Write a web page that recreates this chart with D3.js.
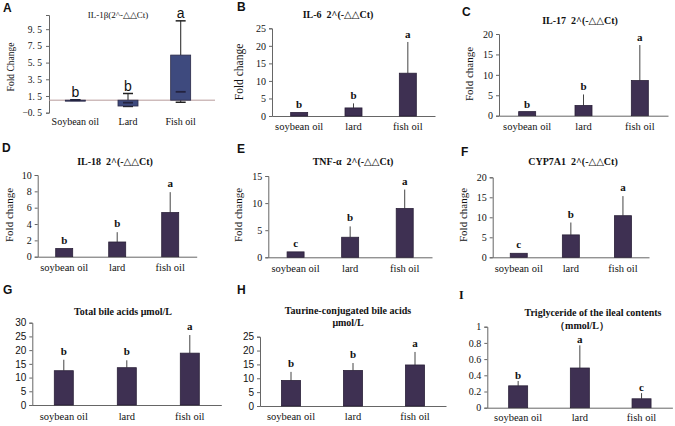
<!DOCTYPE html>
<html>
<head>
<meta charset="utf-8">
<script src="https://cdn.jsdelivr.net/npm/d3@7"></script>
<style>
  body { margin: 0; background: #fff; }
  svg { display: block; }
  text { fill: #111; white-space: pre; }
</style>
</head>
<body>
<svg width="675" height="426"></svg>
<script>
const svg = d3.select("svg");

// ---- data ----
const groupsA = ["Soybean oil", "Lard", "Fish oil"];
const groups = ["soybean oil", "lard", "fish oil"];

// panel A : box summary (min, q1, median, q3, max)
const il1bMin = [1.0, 0.25, 0.75];
const il1bQ1 = [1.0, 0.3, 1.0];
const il1bMed = [1.0, 0.7, 2.0];
const il1bQ3 = [1.0, 1.0, 6.4];
const il1bMax = [1.05, 1.8, 10.5];
const il1bLetters = ["b", "b", "a"];
const il1bTicks = [-0.5, 1.5, 3.5, 5.5, 7.5, 9.5];

const il6Mean = [1, 2.3, 12.2];
const il6Sd = [0, 1.3, 8.9];
const il6Letters = ["b", "b", "a"];

const il17Mean = [1, 2.5, 8.6];
const il17Sd = [0, 2.7, 8.7];
const il17Letters = ["b", "b", "a"];

const il18Mean = [1, 1.8, 5.4];
const il18Sd = [0, 1.2, 2.5];
const il18Letters = ["b", "b", "a"];

const tnfMean = [1, 3.7, 9.0];
const tnfSd = [0, 2.0, 3.5];
const tnfLetters = ["c", "b", "a"];

const cypMean = [1, 5.6, 10.4];
const cypSd = [0, 3.1, 4.9];
const cypLetters = ["c", "b", "a"];

const tbaMean = [12.5, 13.6, 18.9];
const tbaSd = [4.0, 2.7, 6.6];
const tbaLetters = ["b", "b", "a"];

const tcbaMean = [9.2, 12.8, 14.8];
const tcbaSd = [3.1, 2.7, 4.7];
const tcbaLetters = ["b", "b", "a"];

const tgMean = [0.27, 0.49, 0.11];
const tgSd = [0.06, 0.28, 0.07];
const tgLetters = ["b", "a", "c"];

const SERIF = "'Liberation Serif', 'Times New Roman', 'DejaVu Serif', serif";
const SANS = "'Liberation Sans', Arial, sans-serif";
const barFill = "#3e3052";
const barStroke = "#2a2038";
const axisColor = "#666";

function panelLabel(t, x, y, font) {
  svg.append("text").attr("x", x).attr("y", y)
    .style("font-family", font || SANS).attr("font-weight", "bold")
    .attr("font-size", 12).text(t);
}

function barPanel(p) {
  const g = svg.append("g");
  const y = d3.scaleLinear().domain([0, p.max]).range([p.y0, p.yTop]);
  const x = d3.scaleBand().domain(groups).range([p.x0, p.x1]);

  const yAxis = d3.axisLeft(y).tickValues(p.ticks).tickSize(3).tickPadding(3)
    .tickFormat(p.fmt || d3.format("d"));
  const ya = g.append("g").attr("transform", `translate(${p.x0},0)`).call(yAxis);
  ya.select(".domain").attr("stroke", axisColor);
  ya.selectAll(".tick line").attr("stroke", axisColor);
  ya.selectAll(".tick text").style("font-family", p.tickFont || SERIF)
    .style("font-size", "10px").attr("fill", "#111");

  const xAxis = d3.axisBottom(x).tickSize(0).tickPadding(p.catPad || 7);
  const xa = g.append("g").attr("transform", `translate(0,${p.y0})`).call(xAxis);
  xa.select(".domain").attr("stroke", axisColor);
  xa.selectAll(".tick text").style("font-family", SERIF).style("font-size", "10.5px")
    .attr("fill", "#111");

  const bw = p.bw;
  const rows = groups.map((k, i) => ({ k, m: p.mean[i], s: p.sd[i], l: p.letters[i] }));

  g.selectAll("line.err").data(rows.filter(d => d.s > 0)).join("line")
    .attr("class", "err")
    .attr("x1", d => x(d.k) + x.bandwidth() / 2).attr("x2", d => x(d.k) + x.bandwidth() / 2)
    .attr("y1", d => y(d.m)).attr("y2", d => y(d.m + d.s))
    .attr("stroke", "#444").attr("stroke-width", 1);

  g.selectAll("rect.bar").data(rows).join("rect")
    .attr("class", "bar")
    .attr("x", d => x(d.k) + x.bandwidth() / 2 - bw / 2)
    .attr("width", bw)
    .attr("y", d => y(d.m))
    .attr("height", d => y(0) - y(d.m))
    .attr("fill", barFill).attr("stroke", barStroke).attr("stroke-width", 0.8);

  g.selectAll("text.sig").data(rows).join("text")
    .attr("class", "sig")
    .attr("x", d => x(d.k) + x.bandwidth() / 2)
    .attr("y", d => y(d.m + d.s) - p.letterOff)
    .attr("text-anchor", "middle")
    .style("font-family", SERIF).attr("font-weight", "bold").attr("font-size", 11)
    .text(d => d.l);

  p.title.forEach(t => {
    g.append("text").attr("x", t[1]).attr("y", t[2])
      .attr("text-anchor", "middle").style("font-family", SERIF)
      .attr("font-weight", "bold").attr("font-size", 10).text(t[0]);
  });

  if (p.ylabel) {
    g.append("text")
      .attr("transform", `translate(${p.ylabel[1]},${p.ylabel[2]}) rotate(-90)`)
      .attr("text-anchor", "middle").style("font-family", SERIF)
      .attr("font-size", p.ylabel[3]).text(p.ylabel[0]);
  }
}

// ---- panel A : box plot ----
(function () {
  const g = svg.append("g");
  const x0 = 49, x1 = 215;
  const y = d3.scaleLinear().domain([-0.5, 11.2]).range([112.7, 15]);
  const x = d3.scaleBand().domain(groupsA).range([x0, 207]);

  const yAxis = d3.axisLeft(y).tickValues(il1bTicks).tickSize(3).tickPadding(4)
    .tickFormat(d => (d < 0 ? "\u2212" : "") + Math.abs(d).toFixed(1).replace(".", ". "));
  const ya = g.append("g").attr("transform", `translate(${x0},0)`).call(yAxis);
  ya.select(".domain").attr("stroke", axisColor);
  ya.selectAll(".tick line").attr("stroke", axisColor);
  ya.selectAll(".tick text").style("font-family", SERIF).style("font-size", "9.5px").attr("fill", "#111");

  // reference line at fold change 1
  g.append("line").attr("x1", x0).attr("x2", x1).attr("y1", y(1)).attr("y2", y(1))
    .attr("stroke", "#b79a9a").attr("stroke-width", 1);

  groupsA.forEach(k => {
    g.append("text").attr("x", x(k) + x.bandwidth() / 2).attr("y", 125)
      .attr("text-anchor", "middle").style("font-family", SERIF).attr("font-size", 10)
      .text(k);
  });

  const rows = groupsA.map((k, i) => ({
    k, lo: il1bMin[i], q1: il1bQ1[i], md: il1bMed[i], q3: il1bQ3[i], hi: il1bMax[i], l: il1bLetters[i]
  }));
  const cx = d => x(d.k) + x.bandwidth() / 2;
  const bw = 20, cap = 10;

  g.selectAll("line.whi").data(rows).join("line").attr("class", "whi")
    .attr("x1", cx).attr("x2", cx).attr("y1", d => y(d.q3)).attr("y2", d => y(d.hi))
    .attr("stroke", "#444").attr("stroke-width", 1.2);
  g.selectAll("line.wlo").data(rows).join("line").attr("class", "wlo")
    .attr("x1", cx).attr("x2", cx).attr("y1", d => y(d.q1)).attr("y2", d => y(d.lo))
    .attr("stroke", "#444").attr("stroke-width", 1.2);
  g.selectAll("line.chi").data(rows).join("line").attr("class", "chi")
    .attr("x1", d => cx(d) - cap / 2).attr("x2", d => cx(d) + cap / 2)
    .attr("y1", d => y(d.hi)).attr("y2", d => y(d.hi))
    .attr("stroke", "#222").attr("stroke-width", 1.5);
  g.selectAll("line.clo").data(rows).join("line").attr("class", "clo")
    .attr("x1", d => cx(d) - cap / 2).attr("x2", d => cx(d) + cap / 2)
    .attr("y1", d => y(d.lo)).attr("y2", d => y(d.lo))
    .attr("stroke", "#222").attr("stroke-width", 1.5);
  g.selectAll("rect.box").data(rows).join("rect").attr("class", "box")
    .attr("x", d => cx(d) - bw / 2).attr("width", bw)
    .attr("y", d => y(d.q3)).attr("height", d => Math.max(1, y(d.q1) - y(d.q3)))
    .attr("fill", "#3e4a7e").attr("stroke", "#2b2b48").attr("stroke-width", 0.8);
  g.selectAll("line.med").data(rows).join("line").attr("class", "med")
    .attr("x1", d => cx(d) - cap / 2).attr("x2", d => cx(d) + cap / 2)
    .attr("y1", d => y(d.md)).attr("y2", d => y(d.md))
    .attr("stroke", "#232340").attr("stroke-width", 1.8);

  g.selectAll("text.sig").data(rows).join("text").attr("class", "sig")
    .attr("x", cx).attr("y", d => y(d.hi) - 2.5)
    .attr("text-anchor", "middle").style("font-family", SANS).attr("font-size", 14)
    .text(d => d.l);

  g.append("text").attr("x", 118).attr("y", 18).attr("text-anchor", "middle")
    .style("font-family", SERIF).attr("font-size", 9).text("IL-1\u03b2(2^-\u25b3\u25b3Ct)");
  g.append("text").attr("transform", "translate(14,67) rotate(-90)")
    .attr("text-anchor", "middle").style("font-family", SERIF).attr("font-size", 9.5)
    .text("Fold Change");
})();

panelLabel("A", 3, 12);
panelLabel("B", 237, 11);
panelLabel("C", 462, 16);
panelLabel("D", 2, 152);
panelLabel("E", 237, 153);
panelLabel("F", 461, 156);
panelLabel("G", 3, 294);
panelLabel("H", 237, 294);
panelLabel("I", 459, 299, SERIF);

barPanel({
  mean: il6Mean, sd: il6Sd, letters: il6Letters, max: 25, ticks: [0, 5, 10, 15, 20, 25],
  x0: 272, x1: 435, y0: 116, yTop: 28.3, bw: 17, letterOff: 4,
  title: [["IL-6  2^(-\u25b3\u25b3Ct)", 338, 18]],
  ylabel: ["Fold change", 243, 72, 11.5]
});
barPanel({
  mean: il17Mean, sd: il17Sd, letters: il17Letters, max: 20, ticks: [0, 5, 10, 15, 20],
  x0: 499, x1: 668, y0: 115.7, yTop: 34, bw: 17, letterOff: 4,
  title: [["IL-17  2^(-\u25b3\u25b3Ct)", 580, 24]],
  ylabel: ["Fold change", 473, 74, 11]
});
barPanel({
  mean: il18Mean, sd: il18Sd, letters: il18Letters, max: 10, ticks: [0, 2, 4, 6, 8, 10],
  x0: 37.7, x1: 196.7, y0: 256.7, yTop: 175, bw: 17, letterOff: 5,
  title: [["IL-18  2^(-\u25b3\u25b3Ct)", 115, 165]],
  ylabel: ["Fold change", 13, 215, 11]
});
barPanel({
  mean: tnfMean, sd: tnfSd, letters: tnfLetters, max: 15, ticks: [0, 5, 10, 15],
  x0: 268.3, x1: 432, y0: 257.3, yTop: 176, bw: 17, letterOff: 5,
  title: [["TNF-\u03b1  2^(-\u25b3\u25b3Ct)", 353, 165]],
  ylabel: ["Fold change", 242, 215, 11]
});
barPanel({
  mean: cypMean, sd: cypSd, letters: cypLetters, max: 20, ticks: [0, 5, 10, 15, 20],
  x0: 492.7, x1: 649, y0: 257.3, yTop: 177.3, bw: 17, letterOff: 5,
  title: [["CYP7A1  2^(-\u25b3\u25b3Ct)", 573, 165]],
  ylabel: ["Fold change", 467, 215, 11]
});
barPanel({
  mean: tbaMean, sd: tbaSd, letters: tbaLetters, max: 30, ticks: [0, 5, 10, 15, 20, 25, 30],
  x0: 32.3, x1: 221.3, y0: 405, yTop: 322.7, bw: 19, letterOff: 5, tickFont: SANS, catPad: 8,
  title: [["Total bile acids \u03bcmol/L", 123, 315]]
});
barPanel({
  mean: tcbaMean, sd: tcbaSd, letters: tcbaLetters, max: 25, ticks: [0, 5, 10, 15, 20, 25],
  x0: 260, x1: 446, y0: 406, yTop: 336.7, bw: 19, letterOff: 5, tickFont: SANS, catPad: 7,
  title: [["Taurine-conjugated bile acids", 348, 314], ["\u03bcmol/L", 348, 326]]
});
barPanel({
  mean: tgMean, sd: tgSd, letters: tgLetters, max: 1, ticks: [0, 0.2, 0.4, 0.6, 0.8, 1],
  x0: 487.3, x1: 672.4, y0: 407.7, yTop: 326.7, bw: 19, letterOff: 2, catPad: 6,
  fmt: d => d3.format("")(d),
  title: [["Triglyceride of the ileal contents", 593, 316], ["\uff08mmol/L\uff09", 582, 329]]
});
</script>
</body>
</html>
